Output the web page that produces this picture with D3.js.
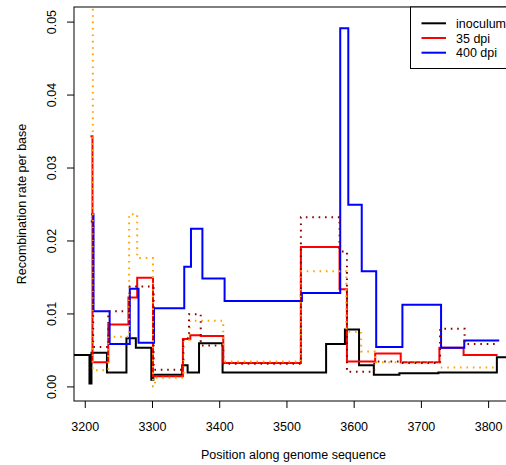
<!DOCTYPE html>
<html>
<head>
<meta charset="utf-8">
<script src="https://cdn.jsdelivr.net/npm/d3@7"></script>
<style>
  html, body { margin: 0; padding: 0; background: #fff; }
  svg { display: block; font-family: "Liberation Sans", Arial, Helvetica, sans-serif; }
</style>
</head>
<body>
<svg id="chart" width="506" height="465"></svg>
<script>
// Window start positions (bp) and recombination rate per base for each sample.
const inoculumPos  = [3180, 3207, 3210, 3233, 3262, 3276, 3299, 3302, 3345, 3353, 3370, 3405, 3559, 3587, 3608, 3630, 3668, 3726, 3813, 3840];
const inoculumRate = [0.0043, 0.0004, 0.0046, 0.0019, 0.0066, 0.0053, 0.0009, 0.0016, 0.0029, 0.0019, 0.0059, 0.0019, 0.0058, 0.0078, 0.0029, 0.0016, 0.0018, 0.0019, 0.0040, 0.0040];

const dpi35Pos  = [3208.5, 3211.5, 3235, 3265, 3278, 3301.5, 3346, 3357, 3372.5, 3406, 3521.5, 3579, 3590, 3632, 3670, 3727.5, 3763.5, 3814];
const dpi35Rate = [0.0343, 0.0033, 0.0085, 0.0122, 0.0149, 0.0014, 0.0065, 0.0070, 0.0069, 0.0032, 0.0191, 0.0133, 0.0034, 0.0045, 0.0033, 0.0053, 0.0043, 0.0043];

const dpi400Pos  = [3209.5, 3213, 3237, 3267, 3280, 3303, 3348, 3358, 3375, 3408, 3523, 3580, 3592, 3612, 3633.5, 3672.5, 3730, 3764.5, 3816.5];
const dpi400Rate = [0.0236, 0.0103, 0.0058, 0.0134, 0.0060, 0.0107, 0.0164, 0.0216, 0.0148, 0.0117, 0.0128, 0.0491, 0.0249, 0.0158, 0.0054, 0.0112, 0.0053, 0.0063, 0.0063];

// Replicate runs, drawn dotted.
const repAPos  = [3210.5, 3212, 3235, 3266, 3278, 3301.5, 3304.5, 3347, 3356, 3406, 3521, 3589, 3611, 3632, 3728, 3813];
const repARate = [0.0560, 0.0022, 0.0068, 0.0236, 0.0176, 0.0000, 0.0012, 0.0064, 0.0090, 0.0034, 0.0158, 0.0075, 0.0048, 0.0033, 0.0026, 0.0026];

const repBPos  = [3209, 3212.5, 3235, 3267, 3302.5, 3346.5, 3355, 3372.5, 3406, 3521.5, 3579, 3590, 3630.5, 3670, 3728.5, 3765, 3813.5];
const repBRate = [0.0226, 0.0054, 0.0103, 0.0137, 0.0023, 0.0066, 0.0099, 0.0056, 0.0031, 0.0232, 0.0185, 0.0020, 0.0034, 0.0032, 0.0079, 0.0058, 0.0058];

const xTicks = [3200, 3300, 3400, 3500, 3600, 3700, 3800];
const yTicks = [0.00, 0.01, 0.02, 0.03, 0.04, 0.05];
const legendLabels = ["inoculum", "35 dpi", "400 dpi"];
const legendColors = ["#000000", "#ff0000", "#0000ff"];

const svg = d3.select("#chart");
const plot = { left: 74, right: 513, top: 7, bottom: 401 };

const x = d3.scaleLinear().domain([3184, 3837]).range([plot.left, plot.right]);
const y = d3.scaleLinear().domain([-0.002, 0.052]).range([plot.bottom, plot.top]);

svg.append("defs").append("clipPath").attr("id", "plotClip")
  .append("rect")
  .attr("x", plot.left).attr("y", plot.top)
  .attr("width", plot.right - plot.left).attr("height", plot.bottom - plot.top);

const line = d3.line()
  .x(d => x(d[0]))
  .y(d => y(d[1]))
  .curve(d3.curveStepAfter);

const series = [
  { pos: inoculumPos, rate: inoculumRate, color: "#000000", dash: null },
  { pos: dpi35Pos,    rate: dpi35Rate,    color: "#ff0000", dash: null },
  { pos: dpi400Pos,   rate: dpi400Rate,   color: "#0000ff", dash: null },
  { pos: repAPos,     rate: repARate,     color: "#ffa500", dash: "1.6,4.8" },
  { pos: repBPos,     rate: repBRate,     color: "#8b0000", dash: "1.6,4.8" }
];

const lines = svg.append("g").attr("clip-path", "url(#plotClip)");
series.forEach(s => {
  const pts = s.pos.map((p, i) => [p, s.rate[i]]);
  lines.append("path")
    .attr("d", line(pts))
    .attr("fill", "none")
    .attr("stroke", s.color)
    .attr("stroke-width", 2)
    .attr("stroke-linejoin", "miter")
    .attr("stroke-dasharray", s.dash);
});

// Plot frame
svg.append("rect")
  .attr("x", plot.left).attr("y", plot.top)
  .attr("width", plot.right - plot.left).attr("height", plot.bottom - plot.top)
  .attr("fill", "none").attr("stroke", "#000").attr("stroke-width", 1);

// Axes
const xAxis = svg.append("g")
  .attr("transform", `translate(0,${plot.bottom})`)
  .call(d3.axisBottom(x).tickValues(xTicks).tickSize(7).tickPadding(14).tickFormat(d3.format("d")));
xAxis.select(".domain").remove();
xAxis.selectAll("text").attr("font-size", "12.5px").attr("fill", "#000").style("font-family", "'Liberation Sans', Arial, sans-serif");

const yAxis = svg.append("g")
  .attr("transform", `translate(${plot.left},0)`)
  .call(d3.axisLeft(y).tickValues(yTicks).tickSize(7).tickFormat(d3.format(".2f")));
yAxis.select(".domain").remove();
yAxis.selectAll("text")
  .attr("font-size", "12.5px").attr("fill", "#000")
  .style("font-family", "'Liberation Sans', Arial, sans-serif")
  .attr("text-anchor", "middle")
  .attr("x", 0).attr("dy", 0)
  .attr("transform", "translate(-18,0) rotate(-90)");

// Axis titles
svg.append("text")
  .attr("x", (x(3200) + x(3800)) / 2 + 7).attr("y", 459)
  .attr("text-anchor", "middle").attr("font-size", "12.5px")
  .text("Position along genome sequence");

svg.append("text")
  .attr("transform", `translate(25.5,${(plot.top + plot.bottom) / 2}) rotate(-90)`)
  .attr("text-anchor", "middle").attr("font-size", "12.5px")
  .text("Recombination rate per base");

// Legend
const legend = svg.append("g");
legend.append("rect")
  .attr("x", 410.5).attr("y", plot.top)
  .attr("width", 120).attr("height", 61.5)
  .attr("fill", "#fff").attr("stroke", "#000").attr("stroke-width", 1);
legendLabels.forEach((lab, i) => {
  const cy = 23.3 + i * 14.7;
  legend.append("line")
    .attr("x1", 421.5).attr("x2", 446).attr("y1", cy).attr("y2", cy)
    .attr("stroke", legendColors[i]).attr("stroke-width", 2);
  legend.append("text")
    .attr("x", 456).attr("y", cy + 4.5)
    .attr("font-size", "12.5px")
    .text(lab);
});
</script>
</body>
</html>
